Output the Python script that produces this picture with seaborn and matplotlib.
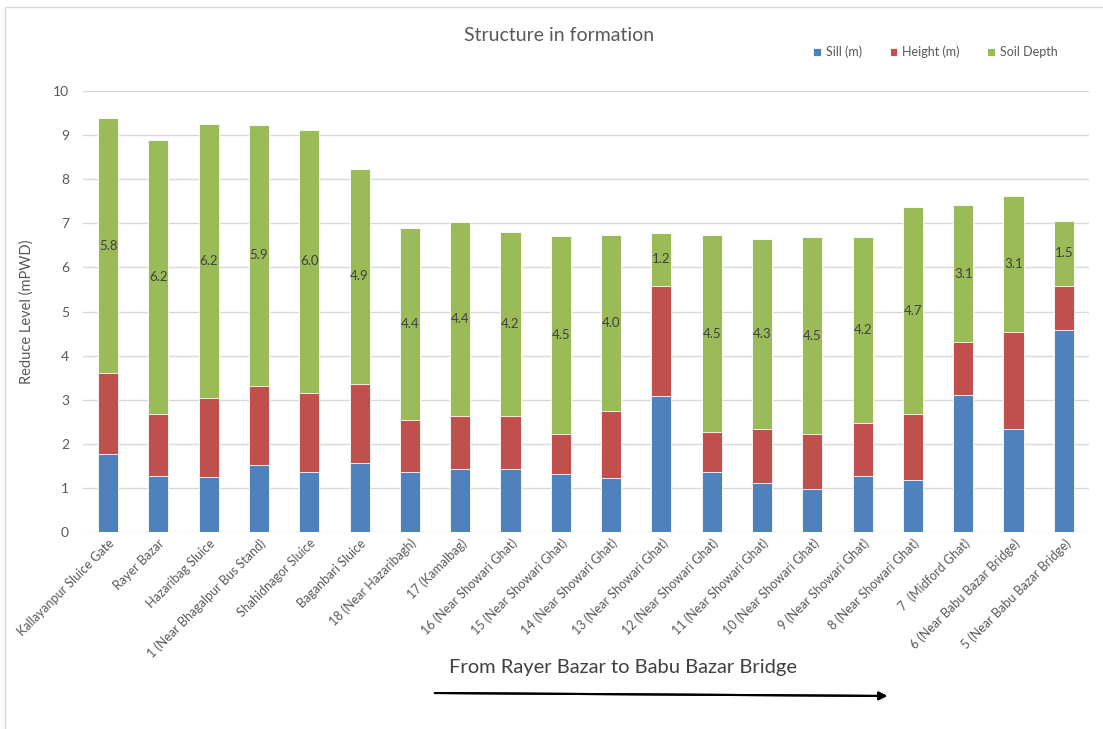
import numpy as np
import pandas as pd
import seaborn as sns
import matplotlib.pyplot as plt
from matplotlib.patches import Rectangle

locations = [
    'Kallayanpur Sluice Gate', 'Rayer Bazar', 'Hazaribag Sluice',
    '1 (Near Bhagalpur Bus Stand)', 'Shahidnagor Sluice', 'Baganbari Sluice',
    '18 (Near Hazaribagh)', '17 (Kamalbag)', '16 (Near Showari Ghat)',
    '15 (Near Showari Ghat)', '14 (Near Showari Ghat)', '13 (Near Showari Ghat)',
    '12 (Near Showari Ghat)', '11 (Near Showari Ghat)', '10 (Near Showari Ghat)',
    '9 (Near Showari Ghat)', '8 (Near Showari Ghat)', '7  (Midford Ghat)',
    '6 (Near Babu Bazar Bridge)', '5 (Near Babu Bazar Bridge)',
]
sill = [1.78, 1.27, 1.24, 1.53, 1.35, 1.56, 1.35, 1.42, 1.42, 1.32,
        1.23, 3.08, 1.37, 1.12, 0.97, 1.28, 1.17, 3.10, 2.34, 4.59]
height = [1.82, 1.41, 1.80, 1.79, 1.80, 1.80, 1.19, 1.21, 1.21, 0.90,
          1.51, 2.50, 0.90, 1.21, 1.25, 1.19, 1.51, 1.21, 2.20, 0.99]
soil = [5.79, 6.20, 6.21, 5.91, 5.97, 4.88, 4.36, 4.41, 4.17, 4.50,
        3.99, 1.21, 4.46, 4.31, 4.46, 4.23, 4.68, 3.10, 3.07, 1.48]

df = pd.DataFrame({'Location': locations, 'Sill': sill, 'Height': height, 'Soil': soil})
df['sill_top'] = df['Sill']
df['height_top'] = df['Sill'] + df['Height']
df['total'] = df['height_top'] + df['Soil']

blue, red, green = '#4F81BD', '#C0504D', '#9BBB59'
grey = '#595959'

sns.set_style('white')
plt.rcParams['font.family'] = ['Lato', 'DejaVu Sans']

fig = plt.figure(figsize=(11.03, 7.29), dpi=100)
ax = fig.add_axes([0.0752, 0.2702, 0.9121, 0.6050])

# stacked bars drawn as overlapping cumulative totals
sns.barplot(data=df, x='Location', y='total', color=green, width=0.4,
            saturation=1, edgecolor='white', linewidth=0.6, ax=ax, label='Soil Depth')
sns.barplot(data=df, x='Location', y='height_top', color=red, width=0.4,
            saturation=1, edgecolor='white', linewidth=0.6, ax=ax, label='Height (m)')
sns.barplot(data=df, x='Location', y='sill_top', color=blue, width=0.4,
            saturation=1, edgecolor='white', linewidth=0.6, ax=ax, label='Sill (m)')
if ax.get_legend() is not None:
    ax.get_legend().remove()

# labels in the middle of the soil segment
for i, row in df.iterrows():
    ax.text(i, (row['height_top'] + row['total']) / 2, f"{row['Soil']:.1f}",
            ha='center', va='center', fontsize=9.5, color='#404040')

ax.set_ylim(0, 10)
ax.set_xlim(-0.5, len(locations) - 0.5)
ax.set_yticks(range(0, 11))
ax.yaxis.grid(True, color='#D9D9D9', linewidth=1)
ax.set_axisbelow(True)
for s in ax.spines.values():
    s.set_visible(False)
ax.tick_params(axis='both', length=0, colors=grey, labelsize=10)
ax.tick_params(axis='y', pad=10)
ax.set_xticks(range(len(locations)))
ax.set_xticklabels(locations, rotation=45, ha='right', rotation_mode='anchor', fontsize=9)
ax.set_xlabel('')
ax.set_ylabel('Reduce Level (mPWD)', fontsize=10.5, color=grey, labelpad=14)

fig.suptitle('Structure in formation', x=0.507, y=0.963, fontsize=14, color=grey)

handles, labels = ax.get_legend_handles_labels()
order = [labels.index(n) for n in ['Sill (m)', 'Height (m)', 'Soil Depth']]
leg = fig.legend([handles[k] for k in order], [labels[k] for k in order],
                 loc='center', bbox_to_anchor=(0.848, 0.929), ncol=3, frameon=False,
                 fontsize=9, handlelength=0.6, handleheight=0.6, handletextpad=0.4,
                 columnspacing=2.2)
for t in leg.get_texts():
    t.set_color(grey)

fig.text(623 / 1103, 1 - 668 / 729, 'From Rayer Bazar to Babu Bazar Bridge', ha='center',
         va='center', fontsize=14.5, color='#404040')
fig.add_artist(plt.annotate('', xy=(890 / 1103, 1 - 696 / 729), xytext=(432 / 1103, 1 - 693 / 729),
                            xycoords='figure fraction', textcoords='figure fraction',
                            arrowprops=dict(arrowstyle='-|>', color='black', lw=1.5,
                                            mutation_scale=12)))

fig.add_artist(Rectangle((5 / 1103, -0.01), 1.0, 1 - 7 / 729 + 0.01, transform=fig.transFigure,
                         fill=False, edgecolor='#D9D9D9', linewidth=1))

fig.savefig('out.png', dpi=100)
